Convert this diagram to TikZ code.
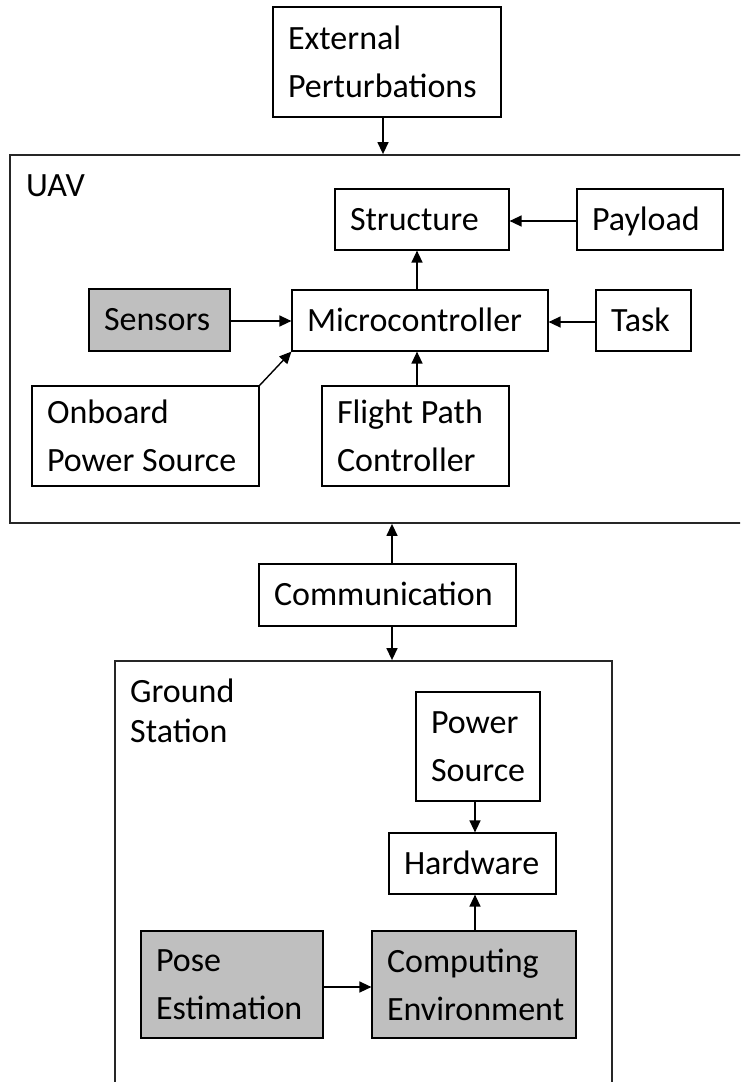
\documentclass[tikz,border=0pt]{standalone}
\usepackage{fontspec}
\setmainfont{Carlito}
\usetikzlibrary{arrows.meta}
\definecolor{shade}{RGB}{191,191,191}
\hyphenpenalty=10000
\exhyphenpenalty=10000
\tikzset{
  basefont/.style={font=\fontsize{34}{48}\selectfont},
  box/.style={draw=black, line width=1.2pt, rectangle, inner xsep=15pt, inner ysep=0pt, align=flush left, basefont},
  one/.style={text height=28pt, text depth=6.5pt},
  frame/.style={draw=black!85, line width=1.8pt, rectangle, inner sep=0pt},
  arr/.style={line width=1.4pt, -{Triangle[length=12pt,width=11pt]}},
  grey/.style={fill=shade},
  lbl/.style={inner sep=0pt, anchor=base west, align=flush left}
}
\begin{document}
\begin{tikzpicture}[x=1pt,y=-1pt]
\useasboundingbox (0,0) rectangle (740,1082);
\clip (0,0) rectangle (740,1082);
% frames
\node[frame, minimum width=750pt, minimum height=368pt] (uav) at (385,339) {};
\node[frame, minimum width=497pt, minimum height=439pt] (gs) at (363.5,880.5) {};
\node[lbl, basefont] (uavlabel) at (26,196) {UAV};
\node[lbl, text width=150pt, font=\fontsize{34}{40}\selectfont] (gslabel) at (130,702) {Ground\\Station};
% boxes
\node[box, minimum width=228pt, minimum height=110pt, text width=198pt] (ext) at (387,62) {External\\Perturbations};
\node[box, one, minimum width=174pt, minimum height=61pt, text width=144pt] (structure) at (422,219.5) {Structure};
\node[box, one, minimum width=146pt, minimum height=61pt, text width=116pt] (payload) at (650,219.5) {Payload};
\node[box, one, minimum width=256pt, minimum height=61pt, text width=226pt] (micro) at (420,320.5) {Microcontroller};
\node[box, one, minimum width=95pt, minimum height=61pt, text width=65pt] (task) at (643.5,320.5) {Task};
\node[box, one, grey, minimum width=141pt, minimum height=62pt, text width=111pt] (sensors) at (159.5,320) {Sensors};
\node[box, minimum width=227pt, minimum height=100pt, text width=197pt] (onboard) at (145.5,436) {Onboard\\Power Source};
\node[box, minimum width=187pt, minimum height=100pt, text width=157pt] (flight) at (415.5,436) {Flight Path\\Controller};
\node[box, one, minimum width=257pt, minimum height=62pt, text width=227pt] (comm) at (387.5,595) {Communication};
\node[box, minimum width=124pt, minimum height=109pt, text width=94pt] (power) at (478,746.5) {Power\\Source};
\node[box, one, minimum width=167pt, minimum height=61pt, text width=137pt] (hardware) at (472.5,863.5) {Hardware};
\node[box, grey, minimum width=182pt, minimum height=107pt, text width=152pt] (pose) at (232,984.5) {Pose\\Estimation};
\node[box, grey, minimum width=204pt, minimum height=107pt, text width=174pt] (compenv) at (474,984.5) {Computing\\Environment};
% connectors
\draw[arr] ([xshift=-4pt]ext.south) -- ([xshift=-4pt]ext.south |- uav.north);
\draw[arr] ([yshift=-1.5pt]payload.west) -- ([yshift=-1.5pt]payload.west -| structure.east);
\draw[arr] ([xshift=-3pt]micro.north) -- ([xshift=-3pt]micro.north |- structure.south);
\draw[arr] ([yshift=-1.5pt]task.west) -- ([yshift=-1.5pt]task.west -| micro.east);
\draw[arr] ([yshift=-1pt]sensors.east) -- ([yshift=-1pt]sensors.east -| micro.west);
\draw[arr] (onboard.north east) -- (micro.south west);
\draw[arr] ([xshift=1.5pt]flight.north) -- ([xshift=1.5pt]flight.north |- micro.south);
\draw[arr] ([xshift=4.5pt]comm.north) -- ([xshift=4.5pt]comm.north |- uav.south);
\draw[arr] ([xshift=4.5pt]comm.south) -- ([xshift=4.5pt]comm.south |- gs.north);
\draw[arr] ([xshift=-3pt]power.south) -- ([xshift=-3pt]power.south |- hardware.north);
\draw[arr] ([xshift=1pt]compenv.north) -- ([xshift=1pt]compenv.north |- hardware.south);
\draw[arr] ([yshift=-2.5pt]pose.east) -- ([yshift=-2.5pt]pose.east -| compenv.west);
\end{tikzpicture}
\end{document}
